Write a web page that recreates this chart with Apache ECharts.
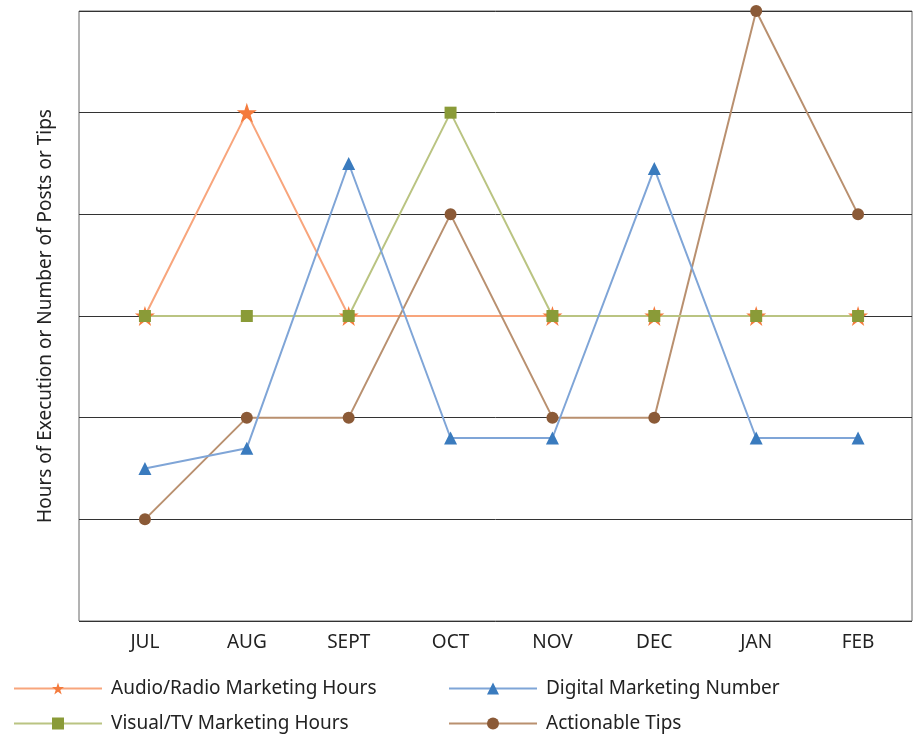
<!DOCTYPE html>
<html>
<head>
<meta charset="utf-8">
<script src="https://cdn.jsdelivr.net/npm/echarts@6/dist/echarts.min.js"></script>
<style>
html,body{margin:0;padding:0;background:#fff;}
#main{width:916px;height:734px;}
</style>
</head>
<body>
<div id="main"></div>
<script>
var months=['JUL','AUG','SEPT','OCT','NOV','DEC','JAN','FEB'];
var audioHours=[3,5,3,3,3,3,3,3];
var digitalNumber=[1.5,1.7,4.5,1.8,1.8,4.45,1.8,1.8];
var visualHours=[3,3,3,5,3,3,3,3];
var actionTips=[1,2,2,4,2,2,6,4];

var font='"Noto Sans", "Open Sans", sans-serif';
var starPath='path://M50,0 L61.8,36.2 L100,36.2 L69.1,58.8 L80.9,95.1 L50,72.7 L19.1,95.1 L30.9,58.8 L0,36.2 L38.2,36.2 Z';

// orange series has no marker at OCT in the reference
var audioData=audioHours.map(function(v,i){
	return i==3 ? {value:v,symbol:'none'} : v;
});

function oneLegend(name,left,top){
	return {
		data:[name],
		left:left,top:top,padding:0,
		itemWidth:88,itemHeight:15,
		textStyle:{fontSize:19,color:'#222',fontFamily:font,padding:[0,0,0,4]}
	};
}

var myChart=echarts.init(document.getElementById('main'));

option={
	backgroundColor:'#fff',
	textStyle:{fontFamily:font},
	legend:[
		oneLegend('Audio/Radio Marketing Hours',13,679),
		oneLegend('Visual/TV Marketing Hours',13,714),
		oneLegend('Digital Marketing Number',448,679),
		oneLegend('Actionable Tips',448,714)
	],
	grid:[
		{left:94,right:7,top:11,bottom:113},
		{left:79,right:4,top:11,bottom:113,show:true,borderColor:'#666',borderWidth:1,backgroundColor:'transparent'}
	],
	xAxis:[
		{
			type:'category',gridIndex:0,data:months,
			axisLine:{show:false},axisTick:{show:false},
			axisLabel:{fontSize:19,color:'#222',margin:12,fontFamily:font}
		},
		{type:'value',gridIndex:1,show:false,min:0,max:1}
	],
	yAxis:[
		{
			type:'value',gridIndex:0,min:0,max:6,interval:1,
			axisLine:{show:false},axisTick:{show:false},axisLabel:{show:false},
			splitLine:{show:false}
		},
		{
			type:'value',gridIndex:1,min:0,max:6,interval:1,
			name:'Hours of Execution or Number of Posts or Tips',
			nameLocation:'middle',nameGap:24,
			nameTextStyle:{fontSize:19,color:'#222',fontFamily:font},
			axisLine:{show:false},axisTick:{show:false},axisLabel:{show:false},
			splitLine:{lineStyle:{color:'#333',width:1}}
		}
	],
	series:[
		{
			name:'Audio/Radio Marketing Hours',type:'line',data:audioData,
			symbol:starPath,symbolSize:20,showAllSymbol:true,
			lineStyle:{color:'#F8A57C',width:2},
			itemStyle:{color:'#F47B3D'}
		},
		{
			name:'Actionable Tips',type:'line',data:actionTips,
			symbol:'circle',symbolSize:12,showAllSymbol:true,
			lineStyle:{color:'#B9906F',width:2},
			itemStyle:{color:'#8B5A37'}
		},
		{
			name:'Visual/TV Marketing Hours',type:'line',data:visualHours,
			symbol:'rect',symbolSize:12,showAllSymbol:true,
			lineStyle:{color:'#BAC482',width:2},
			itemStyle:{color:'#8A9B38'}
		},
		{
			name:'Digital Marketing Number',type:'line',data:digitalNumber,
			symbol:'triangle',symbolSize:13,showAllSymbol:true,
			lineStyle:{color:'#7FA5D7',width:2},
			itemStyle:{color:'#3A7BBE'}
		}
	]
};

myChart.setOption(option);
window.onresize=myChart.resize;
</script>
</body>
</html>
